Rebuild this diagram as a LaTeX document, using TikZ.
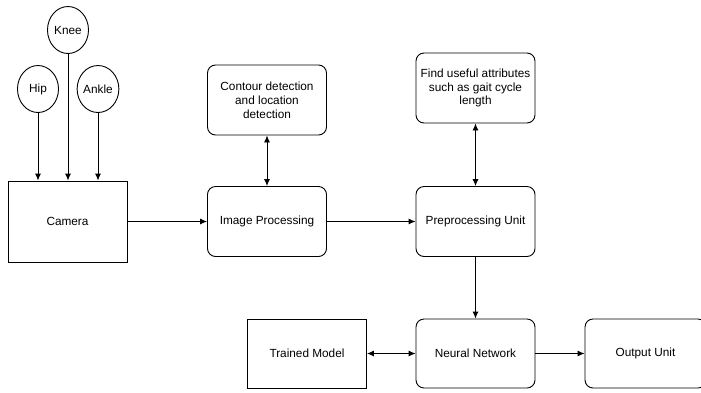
\documentclass[tikz,border=0pt]{standalone}
\usepackage{fontspec}
\setmainfont{Liberation Sans}
\usetikzlibrary{arrows.meta,shapes.geometric}

\begin{document}
\begin{tikzpicture}[x=1pt,y=-1pt,
    font=\fontsize{11.8}{13.8}\selectfont,
    every node/.style={draw=black,line width=0.9pt,align=center,inner sep=2pt},
    box/.style={minimum width=119pt,minimum height=70pt},
    rbox/.style={box,rounded corners=8pt},
    joint/.style={ellipse,minimum width=41pt,minimum height=47pt,inner sep=0pt},
    link/.style={line width=0.9pt,-{Latex[length=7pt,width=6pt]}},
    dlink/.style={line width=0.9pt,{Latex[length=7pt,width=6pt]}-{Latex[length=7pt,width=6pt]}}]
    \useasboundingbox (0,0) rectangle (701,392);
    \node[box,minimum height=81pt] (cam) at (67.5,221.5) {Camera};
    \node[joint] (hip) at (38,89) {Hip};
    \node[joint] (knee) at (68,30) {Knee};
    \node[joint] (ankle) at (98,89) {Ankle};
    \node[rbox] (imgproc) at (267,221.5) {Image Processing};
    \node[rbox] (contour) at (267,100) {Contour detection\\and location\\detection};
    \node[rbox] (preproc) at (475.5,221.5) {Preprocessing Unit};
    \node[rbox] (attrs) at (475.5,88) {Find useful attributes\\such as gait cycle\\length};
    \node[box,minimum height=69pt] (trained) at (307,353.5) {Trained Model};
    \node[rbox,minimum height=69pt] (nn) at (475.5,353.5) {Neural Network};
    \node[rbox,minimum height=69pt,minimum width=121pt] (output) at (645.5,353.5) {Output Unit};
    \draw[link] (hip.south) -- (hip.south |- cam.north);
    \draw[link] (knee.south) -- (knee.south |- cam.north);
    \draw[link] (ankle.south) -- (ankle.south |- cam.north);
    \draw[link] (cam) -- (imgproc);
    \draw[dlink] (contour) -- (imgproc);
    \draw[link] (imgproc) -- (preproc);
    \draw[dlink] (attrs) -- (preproc);
    \draw[link] (preproc) -- (nn);
    \draw[dlink] (trained) -- (nn);
    \draw[link] (nn) -- (output);
\end{tikzpicture}
\end{document}
